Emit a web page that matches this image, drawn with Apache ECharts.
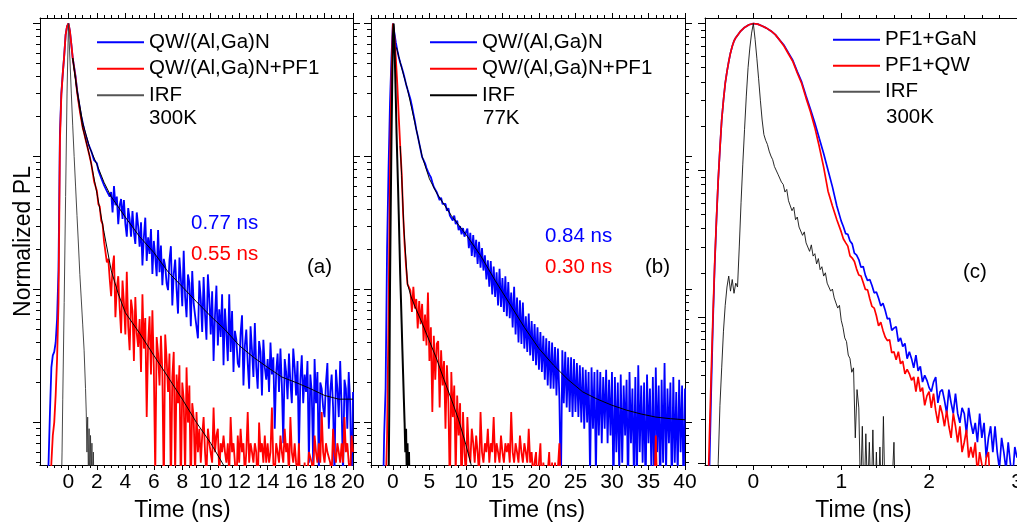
<!DOCTYPE html>
<html><head><meta charset="utf-8">
<script src="https://cdn.jsdelivr.net/npm/echarts@6/dist/echarts.min.js"></script>
<style>html,body{margin:0;padding:0;background:#fff}#c{width:1017px;height:525px}</style>
</head><body><div id="c"></div>
<script>
// ---------------- data: panel (a) 300K ----------------
const tA = [-2,-1.8,-1.6,-1.5,-1.4,-1.3,-1.2,-1.1,-1,-0.9,-0.8,-0.7,-0.65,-0.6,-0.5,-0.4,-0.3,-0.2,-0.1,0,0.1,0.2,0.3,0.4,0.5,0.6,0.7,0.8,0.9,1,1.1,
1.2,1.4,1.6,1.8,
2,2.1,2.2,2.3,2.4,2.5,2.6,2.7,2.8,2.9,
3,3.1,3.2,3.3,3.4,3.5,3.6,3.7,3.8,3.9,
4,4.1,4.2,4.3,4.4,4.5,4.6,4.7,4.8,4.9,
5,5.1,5.2,5.3,5.4,5.5,5.6,5.7,5.8,5.9,
6,6.1,6.2,6.3,6.4,6.5,6.6,6.7,6.8,6.9,
7,7.1,7.2,7.3,7.4,7.5,7.6,7.7,7.8,7.9,
8,8.1,8.2,8.3,8.4,8.5,8.6,8.7,8.8,8.9,
9,9.1,9.2,9.3,9.4,9.5,9.6,9.7,9.8,9.9,
10,10.1,10.2,10.3,10.4,10.5,10.6,10.7,10.8,10.9,
11,11.1,11.2,11.3,11.4,11.5,11.6,11.7,11.8,11.9,
12,12.1,12.2,12.3,12.4,12.5,12.6,12.7,12.8,12.9,
13,13.1,13.2,13.3,13.4,13.5,13.6,13.7,13.8,13.9,
14,14.1,14.2,14.3,14.4,14.5,14.6,14.7,14.8,14.9,
15,15.1,15.2,15.3,15.4,15.5,15.6,15.7,15.8,15.9,
16,16.1,16.2,16.3,16.4,16.5,16.6,16.7,16.8,16.9,
17,17.1,17.2,17.3,17.4,17.5,17.6,17.7,17.8,17.9,
18,18.1,18.2,18.3,18.4,18.5,18.6,18.7,18.8,18.9,
19,19.1,19.2,19.3,19.4,19.5,19.6,19.7,19.8,19.9,
20];
const blueA = [1e-4,1e-4,1e-4,2e-4,5e-4,1.2e-3,2.6e-3,3.2e-3,3.4e-3,4e-3,6e-3,0.014,0.045,0.15,0.3,0.42,0.57,0.82,0.95,1,0.88,0.7,0.55,0.47,0.4,0.32,0.27,0.23,0.2,0.18,0.16,
.146,.124,.11,.094,
.089,.079,.078,.069,.068,.061,.062,.055,.056,.05,
.054,.038,.06,.043,.05,.031,.043,.048,.034,.047,
.031,.025,.041,.034,.025,.039,.027,.022,.038,.03,
.021,.032,.0152,.0248,.0347,.0164,.0247,.0185,.0285,.0131,
.0232,.0176,.0126,.028,.0135,.0214,.0108,.017,.015,.0111,
.0099,.0167,.0212,.0076,.0131,.0168,.01,.0066,.0174,.012,
.0075,.0196,.0088,.0062,.013,.0112,.0053,.0138,.0079,.0064,
.0066,.0043,.0117,.0085,.0048,.0124,.0065,.0042,.013,.0086,
.0046,.0097,.0029,.0064,.0107,.0038,.0071,.0044,.0092,.0027,
.0072,.0047,.0029,.0092,.0034,.0069,.0024,.0049,.0042,.0028,
.0026,.0047,.0064,.0019,.0038,.005,.0028,.0018,.0053,.0035,
.0022,.0056,.0026,.0018,.0041,.0034,.0016,.0042,.0026,.0021,
.003,.0017,.004,.0023,.0031,.0009,.0024,.0033,.0017,.0036,
.0019,.0007,.003,.0024,.0015,.0033,.002,.0014,.0036,.0026,
.0016,.0029,.0006,.0021,.0032,.0014,.0023,.0017,.0029,.0005,
.0023,.0017,.0005,.003,.0014,.0024,.0004,.002,.0018,.0013,
.0011,.002,.0028,.0009,.0017,.0023,.0013,.0004,.0025,.0018,
.0011,.0029,.0013,.0004,.0021,.0018,.0009,.0024,.0014,.0003,
.0017];
const redA = [1e-4,1e-4,1e-4,1e-4,1e-4,2e-4,5e-4,8e-4,1e-3,1.6e-3,3e-3,8e-3,0.03,0.13,0.29,0.42,0.57,0.82,0.95,1,0.88,0.7,0.55,0.46,0.39,0.31,0.26,0.22,0.19,0.165,0.15,
.135,.11,.089,.065,
.055,.044,.042,.033,.031,.023,.023,.016,.017,.012,
.0089,.0147,.018,.0062,.0103,.0126,.0073,.0047,.0117,.0079,
.0046,.0136,.0053,.0035,.0084,.0069,.0029,.0088,.0047,.0037,
.006,.0024,.0092,.0036,.0061,.0011,.004,.0063,.0023,.007,
.0026,.0004,.0044,.0033,.0019,.0045,.0024,.0003,.0046,.003,
.0017,.0033,.0003,.0022,.0034,.0004,.0023,.0014,.0027,.0003,
.002,.0015,.0004,.0026,.001,.0019,.0003,.0014,.0011,.0004,
.0012,.0006,.0009,.0005,.0008,.0011,.0006,.0004,.0009,.0007,
.0007,.0005,.0013,.0006,.0008,.0009,.0004,.0007,.0006,.0008,
.0006,.0005,.0007,.0004,.0011,.0006,.0007,.0005,.0003,.0008,
.0005,.0009,.0006,.0007,.0004,.0006,.0012,.0005,.0007,.0006,
.0005,.0007,.0006,.0003,.001,.0006,.0007,.0005,.0008,.0005,
.0007,.0005,.0006,.0013,.0005,.0004,.0007,.0006,.0005,.0008,
.0006,.0005,.0009,.0006,.0007,.0004,.0011,.0006,.0005,.0007,
.0005,.0004,.0007,.0003,.0003,.0003,.0005,.0003,.0004,.0006,
.0006,.0005,.0004,.0008,.0006,.0005,.0007,.0005,.0012,.0006,
.0005,.0007,.0006,.0006,.0005,.0004,.0009,.0006,.0005,.0007,
.0006,.0005,.0007,.0005,.0011,.0006,.0007,.0005,.0004,.0008,
.0006];
const tIrfA = [-0.6,-0.5,-0.45,-0.4,-0.3,-0.2,-0.1,0,0.1,0.2,0.3,0.4,0.5,0.6,0.7,0.8,0.9,1,1.1,1.2,1.25,1.3,1.35,1.4,1.45,1.5,1.55,1.6,1.65,1.7,1.75,1.8,1.9];
const irfA = [1e-4,3e-4,6e-4,1.5e-3,8e-3,0.05,0.3,1,0.55,0.3,0.17,0.1,0.06,0.036,0.022,0.013,0.0085,0.0055,0.0035,0.0018,0.0012,0.0006,0.0011,0.0004,0.0009,0.0003,0.0008,0.0004,0.0007,0.0003,0.0006,0.0003,0.0001];
const tFitBlueA = [0.3,0.6,1,1.5,2,2.5,3,4,5,6,7,8,9,10,11,12,13,14,15,16,17,18,19,20];
const fitBlueA = [0.55,0.32,0.18,0.116,0.087,0.064,0.05,0.035,0.025,0.019,0.0136,0.0105,0.0081,0.0063,0.005,0.0038,0.0031,0.0026,0.0022,0.002,0.0018,0.0016,0.0015,0.0015];
const tFitRedA = [0.3,0.6,1,1.5,2,2.5,3,3.5,4,5,6,7,8,9,10,11];
const fitRedA = [0.55,0.31,0.165,0.1,0.053,0.027,0.014,0.0093,0.0067,0.0047,0.0032,0.0022,0.0015,0.001,0.0007,0.00046];

// ---------------- data: panel (b) 77K ----------------
const tB = [-3,-2.5,-2,-1.6,-1.4,-1.2,-1,-0.8,-0.6,-0.4,-0.2,0,0.2,0.4,0.6,0.8,1,1.2,1.4,1.6,1.8,2,
2.4,2.6,2.8,3,3.2,3.4,3.6,3.8,4,4.2,4.4,4.6,4.8,5,5.2,5.4,5.6,5.8,6,
6.2,6.4,6.6,6.8,7, 7.2,7.4,7.6,7.8,8, 8.2,8.4,8.6,8.8,9, 9.2,9.4,9.6,9.8,10,
10.2,10.4,10.6,10.8,11, 11.2,11.4,11.6,11.8,12, 12.2,12.4,12.6,12.8,13, 13.2,13.4,13.6,13.8,14,
14.2,14.4,14.6,14.8,15, 15.2,15.4,15.6,15.8,16, 16.2,16.4,16.6,16.8,17, 17.2,17.4,17.6,17.8,18,
18.2,18.4,18.6,18.8,19, 19.2,19.4,19.6,19.8,20, 20.2,20.4,20.6,20.8,21, 21.2,21.4,21.6,21.8,22,
22.2,22.4,22.6,22.8,23, 23.2,23.4,23.6,23.8,24, 24.2,24.4,24.6,24.8,25, 25.2,25.4,25.6,25.8,26,
26.2,26.4,26.6,26.8,27, 27.2,27.4,27.6,27.8,28, 28.2,28.4,28.6,28.8,29, 29.2,29.4,29.6,29.8,30,
30.2,30.4,30.6,30.8,31, 31.2,31.4,31.6,31.8,32, 32.2,32.4,32.6,32.8,33, 33.2,33.4,33.6,33.8,34,
34.2,34.4,34.6,34.8,35, 35.2,35.4,35.6,35.8,36, 36.2,36.4,36.6,36.8,37, 37.2,37.4,37.6,37.8,38,
38.2,38.4,38.6,38.8,39, 39.2,39.4,39.6,39.8,40];
const blueB = [1e-4,1e-4,1e-4,1e-4,2e-4,8e-4,1.8e-3,0.02,0.08,0.25,0.55,1,0.85,0.72,0.63,0.56,0.51,0.47,0.43,0.39,0.35,0.32,
.27,.24,.21,.185,.16,.143,.126,.112,.099,.094,.089,.082,.077,.073,.07,.064,.059,.057,.054,
.053,.047,.049,.044,.045, .044,.039,.041,.036,.037, .033,.036,.031,.033,.028, .03,.026,.029,.025,.027,
.0287,.0205,.0267,.0179,.0257, .0175,.0237,.0156,.0229,.0146, .0205,.0139,.0181,.0119,.0166, .0105,.0164,.0092,.0149,.0088,
.0135,.0076,.0143,.0074,.0122, .0068,.0126,.0063,.0114,.0061, .0095,.0052,.0105,.0046,.0087, .004,.0083,.0039,.008,.0036,
.0063,.0034,.0066,.0032,.0058, .0029,.0055,.0027,.0052,.0025, .0048,.0024,.0045,.0021,.0043, .0019,.0041,.0018,.004,.0018,
.0037,.0016,.0036,.0015,.0003, .0035,.0014,.0034,.0013,.0031, .0012,.0031,.0011,.003,.0012, .0028,.0011,.0027,.001,.0026,
.0009,.0025,.001,.0024,.0004, .0026,.0009,.0024,.0004,.0025, .0008,.0024,.0007,.0022,.0009, .0025,.0007,.0021,.0008,.0024,
.0003,.0022,.0006,.002,.0004, .0023,.0005,.0019,.0008,.0021, .0003,.0024,.0007,.0018,.0004, .0022,.0003,.0027,.0006,.0019,
.0005,.002,.0003,.0023,.0007, .0018,.0004,.0022,.0003,.0026, .0006,.0019,.0003,.0021,.0005, .0028,.0004,.0018,.0007,.002,
.0003,.0022,.0005,.0017,.0004, .0021,.0006,.0019,.0003,.0018];
const redB = [1e-4,1e-4,1e-4,1e-4,1e-4,1e-4,3e-4,8e-4,6e-3,0.08,0.4,1,0.8,0.55,0.35,0.2,0.12,0.075,0.037,0.022,0.015,0.011,
.0098,.0068,.0105,.0072,.0085,.0051,.0082,.0055,.0078,.0041,.0065,.0038,.0095,.0029,.0052,.0012,.0045,.0021,.0039,
.0041,.0013,.0035,.0019,.0029, .0009,.0027,.0014,.0003,.0024, .0011,.0019,.0004,.0016,.0008, .0014,.0003,.0012,.0006,.0004,
.0011,.0006,.0005,.0009,.0007, .0005,.0008,.0006,.0004,.0012, .0006,.0005,.0007,.0006,.0009, .0005,.0007,.0006,.0011,.0005,
.0007,.0006,.0005,.0008,.0006, .0005,.0007,.0006,.0007,.0005, .0012,.0006,.0005,.0007,.0006, .0005,.0008,.0006,.0005,.0007,
.0006,.0005,.0009,.0005,.0006, .0004,.0005,.0006,.0003,.0005, .0007,.0003,.0005,.0005,.0003, .0003,.0006,.0003,.0005,.0003,
.0005,.0003,.0003,.0007,.0003, .0003,.0003,.0003,.0003,.0003, .0003,.0003,.0003,.0003,.0003, .0003,.0003,.0003,.0003,.0003,
.0003,.0003,.0003,.0003,.0003, .0003,.0003,.0003,.0003,.0003, .0003,.0003,.0003,.0003,.0003, .0003,.0003,.0003,.0003,.0003,
.0003,.0003,.0003,.0003,.0003, .0003,.0003,.0003,.0003,.0003, .0003,.0003,.0003,.0003,.0003, .0003,.0003,.0003,.0003,.0003,
.0003,.0003,.0003,.0003,.0003, .0003,.0003,.0003,.0003,.0008, .0003,.0003,.0003,.0003,.0003, .0003,.0003,.0003,.0003,.0003,
.0003,.0003,.0003,.0003,.0003, .0003,.0003,.0003,.0003,.0003];
const tIrfB = [-0.8,-0.6,-0.5,-0.4,-0.3,-0.2,-0.1,0,0.1,0.2,0.3,0.4,0.5,0.6,0.7,0.8,0.9,1,1.1,1.2,1.3,1.4,1.5,1.6,1.7,1.8,1.9,2,2.1,2.2,2.3,2.4];
const irfB = [1e-4,3e-4,1.2e-3,0.01,0.04,0.13,0.35,0.8,1,0.75,0.45,0.27,0.15,0.095,0.06,0.037,0.022,0.013,0.0085,0.0055,0.0035,0.0023,0.0015,0.001,0.0006,0.0009,0.0004,0.0007,0.0003,0.0006,0.0003,0.0001];
const tFitBlueB = [0.5,1,2,3,4,5,6,8,10,12,14,16,18,20,22,24,26,28,30,32,34,36,38,40];
const fitBlueB = [0.66,0.51,0.32,0.18,0.1,0.068,0.053,0.036,0.026,0.018,0.0117,0.0078,0.0052,0.0036,0.0027,0.0021,0.0017,0.0015,0.00135,0.00124,0.00116,0.0011,0.00107,0.00105];
const tFitRedB = [1,1.2,1.5,2,2.5,3,4,5,6,7,8,9,10,11];
const fitRedB = [0.12,0.072,0.029,0.011,0.0088,0.0075,0.0056,0.0041,0.003,0.0021,0.0015,0.00105,0.00068,0.00042];

// ---------------- data: panel (c) 300K ----------------
const tC = [-0.55,-0.52,-0.5,-0.48,-0.46,-0.44,-0.42,-0.4,-0.38,-0.36,-0.34,-0.32,-0.3,-0.28,-0.26,-0.24,-0.22,-0.2,-0.15,-0.1,-0.05,0,0.05,0.1,0.15,0.2,0.25,0.3,0.35,0.4,0.45,0.5,0.55,0.6,0.65,0.7,0.75,0.8,0.85,0.9,0.95,1,
1.025,1.05,1.075,1.1,1.125,1.15,1.175,1.2,
1.225,1.25,1.275,1.3,1.325,1.35,1.375,1.4,
1.425,1.45,1.475,1.5,1.525,1.55,1.575,1.6,
1.625,1.65,1.675,1.7,1.725,1.75,1.775,1.8,
1.825,1.85,1.875,1.9,1.925,1.95,1.975,2,
2.025,2.05,2.075,2.1,2.125,2.15,2.175,2.2,
2.225,2.25,2.275,2.3,2.325,2.35,2.375,2.4,
2.425,2.45,2.475,2.5,2.525,2.55,2.575,2.6,
2.625,2.65,2.675,2.7,2.725,2.75,2.775,2.8,
2.825,2.85,2.875,2.9,2.925,2.95,2.975,3];
const blueC = [1e-4,3e-4,9e-4,3e-3,9e-3,0.022,0.045,0.085,0.14,0.22,0.3,0.39,0.47,0.55,0.63,0.7,0.76,0.8,0.88,0.94,0.98,1,0.99,0.96,0.93,0.89,0.84,0.77,0.71,0.63,0.56,0.47,0.4,0.32,0.26,0.21,0.165,0.13,0.1,0.077,0.057,0.045,
.0412,.037,.0366,.0329,.0315,.0272,.0264,.0246,
.0218,.0221,.0192,.0177,.018,.0164,.0146,.0148,
.0134,.0119,.0124,.0111,.0097,.0098,.0081,.0084,
.0086,.0068,.0072,.0063,.0066,.0052,.0058,.0052,
.0045,.0055,.0043,.0046,.0036,.004,.0037,.0033,
.0031,.0036,.0039,.0026,.0031,.0032,.0027,.0022,
.0032,.0026,.0022,.003,.0022,.0019,.0024,.0022,
.0016,.0024,.0019,.0016,.0019,.0014,.0022,.0015,
.0019,.0011,.0015,.0018,.0012,.0018,.0012,.00092,
.0015,.0012,.00091,.0014,.001,.00079,.0013,.0011];
const redC = [1e-4,5e-4,1.5e-3,4e-3,0.01,0.023,0.046,0.085,0.14,0.22,0.3,0.39,0.47,0.55,0.63,0.7,0.76,0.8,0.88,0.94,0.98,1,0.99,0.96,0.93,0.89,0.84,0.77,0.7,0.62,0.55,0.46,0.39,0.31,0.25,0.195,0.145,0.105,0.072,0.057,0.046,0.038,
.034,.0321,.0304,.0261,.0252,.0239,.0212,.0193,
.019,.0172,.0154,.0153,.0133,.0118,.0115,.0102,
.0087,.0092,.0081,.0073,.0069,.007,.0057,.0058,
.0051,.0058,.0048,.005,.0041,.0044,.0041,.0037,
.0039,.0031,.0039,.0031,.0033,.0025,.0029,.0031,
.0024,.003,.0023,.0019,.0025,.0022,.0018,.0023,
.0018,.0015,.0022,.0018,.0014,.0018,.0012,.0014,
.0017,.0011,.0013,.0011,.0014,.00085,.0012,.00099,
.00079,.0011,.0012,.00064,.00086,.00096,.00069,.00054,
.00093,.00072,.00056,.00089,.00056,.00046,.00067,.0006];
const tIrfC = [-0.42,-0.4,-0.38,-0.36,-0.34,-0.32,-0.3,-0.28,-0.26,-0.24,-0.22,-0.2,-0.18,-0.16,-0.14,
-0.12,-0.1,-0.08,-0.06,-0.04,-0.02,0,0.02,0.04,0.06,0.08,0.1,0.12,0.14,0.16,
0.18,0.2,0.22,0.24,0.26,0.28,0.3,0.32,0.34,0.36,0.38,0.4,0.42,0.44,0.46,
0.48,0.5,0.52,0.54,0.56,0.58,0.6,0.62,0.64,0.66,0.68,0.7,0.72,0.74,0.76,
0.78,0.8,0.82,0.84,0.86,0.88,0.9,0.92,0.94,0.96,0.98,1,1.02,1.04,1.06,
1.08,1.1,1.12,1.14,1.16,1.18,1.2,1.22,1.24,1.26,1.28,1.3,1.32,1.34,1.36,
1.38,1.4,1.42,1.44,1.46,1.48,1.5,1.52,1.56,1.6,1.62];
const irfC = [5e-4,1e-3,2.5e-3,4.5e-3,8e-3,.012,.016,.019,.015,.018,.0145,.017,.016,.03,.06,
.11,.19,.32,.5,.68,.86,1,.78,.58,.42,.3,.22,.175,.16,.15,
.135,.125,.118,.106,.108,.094,.096,.083,.08,.071,.074,.062,.063,.053,.056,
.046,.048,.041,.042,.036,.038,.032,.033,.028,.031,.026,.027,.023,.025,.021,
.022,.019,.02,.017,.0175,.015,.0155,.0135,.0138,.0115,.012,.0095,.0085,.0072,.0068,
.0055,.0052,.0042,.0045,.0015,.0032,.0024,.0006,.0018,.0005,.0016,.0006,.0014,.0005,.0017,
.0005,.0012,.0005,.0013,.0005,.0021,.0005,.0004,.0004,.0014,.0004];

// ---------------- axes: tick labels ----------------
const xLabelsA = [0,2,4,6,8,10,12,14,16,18,20];
const xLabelsB = [0,5,10,15,20,25,30,35,40];
const xLabelsC = [0,1,2,3];
const yMajor = [0.001,0.01,0.1,1];

// ---------------- build ----------------
const checks = [[tA,blueA,'blueA'],[tA,redA,'redA'],[tIrfA,irfA,'irfA'],[tFitBlueA,fitBlueA,'fbA'],[tFitRedA,fitRedA,'frA'],
 [tB,blueB,'blueB'],[tB,redB,'redB'],[tIrfB,irfB,'irfB'],[tFitBlueB,fitBlueB,'fbB'],[tFitRedB,fitRedB,'frB'],
 [tC,blueC,'blueC'],[tC,redC,'redC'],[tIrfC,irfC,'irfC']];
const bad = checks.filter(c => c[0].length !== c[1].length).map(c => c[2] + ':' + c[0].length + '/' + c[1].length);
if (bad.length) throw new Error('length mismatch ' + bad.join(' '));

const FF = '"Liberation Sans", Arial, Helvetica, sans-serif';
const BLUE = '#0000ff', RED = '#ff0000';
function pts(t, v) { return t.map((x, i) => [x, v[i]]); }
function minorList(min, max, step, major) {
  const out = [];
  for (let k = Math.ceil(min / step - 1e-9); k * step <= max + 1e-9; k++) {
    const v = Math.round(k * step * 1000) / 1000;
    const r = v / major;
    if (Math.abs(r - Math.round(r)) > 1e-6) out.push(v);
  }
  return out;
}
function logMinor(min, max) {
  const out = [];
  for (let e = -4; e <= 0; e++) for (let k = 2; k <= 9; k++) {
    const v = k * Math.pow(10, e);
    if (v >= min * 0.999 && v <= max) out.push(Math.log10(v));
  }
  return out;
}
const panels = [
  {left: 40, width: 313, xMin: -2, xMax: 20, xMajor: xLabelsA, xMinor: minorList(-2, 20, 0.5, 2), yMin: 4.8e-4, yMax: 1.1, pad: [0, 28, 0, 0]},
  {left: 371, width: 314, xMin: -3, xMax: 40, xMajor: xLabelsB, xMinor: minorList(-3, 40, 1, 5), yMin: 4.8e-4, yMax: 1.1, pad: [0, 0, 0, 18]},
  {left: 705, width: 312, xMin: -0.55, xMax: 3, xMajor: xLabelsC, xMinor: minorList(-0.55, 3, 0.2, 1), yMin: 9.8e-4, yMax: 1.09, pad: [0, 0, 0, 5]}
];
const AX = {color: '#000', width: 1};
const grid = [], xAxis = [], yAxis = [];
panels.forEach((p, i) => {
  grid.push({left: p.left, top: 18, width: p.width, height: 447, containLabel: false, outerBoundsMode: 'none'});
  const base = {gridIndex: i, type: 'value', min: p.xMin, max: p.xMax, splitLine: {show: false}};
  xAxis.push(Object.assign({}, base, {position: 'bottom',
    axisLine: {show: true, onZero: false, lineStyle: AX},
    axisTick: {show: true, inside: false, length: 5, customValues: p.xMajor, lineStyle: AX},
    axisLabel: {show: true, customValues: p.xMajor, margin: 7, color: '#000', fontSize: 21, fontFamily: FF, hideOverlap: false},
    name: 'Time (ns)', nameLocation: 'middle', nameGap: 34,
    nameTextStyle: {fontSize: 23, color: '#000', fontFamily: FF, padding: p.pad}}));
  xAxis.push(Object.assign({}, base, {position: 'bottom', axisLine: {show: false, onZero: false},
    axisTick: {show: true, inside: false, length: 3, customValues: p.xMinor, lineStyle: AX}, axisLabel: {show: false}}));
  xAxis.push(Object.assign({}, base, {position: 'top', axisLine: {show: true, onZero: false, lineStyle: AX},
    axisTick: {show: true, inside: false, length: 5, customValues: p.xMajor, lineStyle: AX}, axisLabel: {show: false}}));
  xAxis.push(Object.assign({}, base, {position: 'top', axisLine: {show: false, onZero: false},
    axisTick: {show: true, inside: false, length: 3, customValues: p.xMinor, lineStyle: AX}, axisLabel: {show: false}}));

  const yData = {gridIndex: i, type: 'log', logBase: 10, min: p.yMin, max: p.yMax, position: 'left',
    axisLine: {show: true, onZero: false, lineStyle: AX}, axisTick: {show: false}, axisLabel: {show: false},
    splitLine: {show: false}, minorTick: {show: false}, minorSplitLine: {show: false}};
  if (i === 0) Object.assign(yData, {name: 'Normalized PL', nameLocation: 'middle', nameGap: 5,
    nameTextStyle: {fontSize: 23, color: '#000', fontFamily: FF}});
  yAxis.push(yData);
  const lb = {gridIndex: i, type: 'value', min: Math.log10(p.yMin), max: Math.log10(p.yMax), splitLine: {show: false}, axisLabel: {show: false}};
  const maj = yMajor.map(Math.log10), mnr = logMinor(p.yMin, p.yMax);
  yAxis.push(Object.assign({}, lb, {position: 'left', axisLine: {show: false, onZero: false},
    axisTick: {show: true, inside: false, length: 7, customValues: maj, lineStyle: AX}}));
  yAxis.push(Object.assign({}, lb, {position: 'left', axisLine: {show: false, onZero: false},
    axisTick: {show: true, inside: false, length: 4, customValues: mnr, lineStyle: AX}}));
  yAxis.push(Object.assign({}, lb, {position: 'right', axisLine: {show: true, onZero: false, lineStyle: AX},
    axisTick: {show: true, inside: false, length: 7, customValues: maj, lineStyle: AX}}));
  yAxis.push(Object.assign({}, lb, {position: 'right', axisLine: {show: false, onZero: false},
    axisTick: {show: true, inside: false, length: 4, customValues: mnr, lineStyle: AX}}));
});

function line(name, g, data, color, width, z) {
  return {name: name, type: 'line', xAxisIndex: 4 * g, yAxisIndex: 5 * g, data: data,
    symbol: 'none', showSymbol: false, clip: true, z: z, silent: true,
    lineStyle: {color: color, width: width}, itemStyle: {color: color}, emphasis: {disabled: true}};
}
const series = [
  line('QW/(Al,Ga)N', 0, pts(tA, blueA), BLUE, 1.8, 2),
  line('QW/(Al,Ga)N+PF1', 0, pts(tA, redA), RED, 1.8, 3),
  line('IRF', 0, pts(tIrfA, irfA), '#333', 0.9, 4),
  line('fit', 0, pts(tFitBlueA, fitBlueA), '#000', 1, 5),
  line('fit', 0, pts(tFitRedA, fitRedA), '#000', 1, 5),
  line('QW/(Al,Ga)N', 1, pts(tB, blueB), BLUE, 1.8, 2),
  line('QW/(Al,Ga)N+PF1', 1, pts(tB, redB), RED, 1.8, 3),
  line('IRF 77K', 1, pts(tIrfB, irfB), '#000', 2, 4),
  line('fit', 1, pts(tFitBlueB, fitBlueB), '#000', 1, 5),
  line('fit', 1, pts(tFitRedB, fitRedB), '#000', 1, 5),
  line('PF1+GaN', 2, pts(tC, blueC), BLUE, 1.7, 2),
  line('PF1+QW', 2, pts(tC, redC), RED, 1.7, 3),
  line('IRF', 2, pts(tIrfC, irfC), '#111', 0.9, 4)
];

function legend(left, top, gap, items) {
  return {left: left, top: top, orient: 'vertical', padding: 0, itemWidth: 47, itemHeight: 2, itemGap: gap,
    icon: 'rect', selectedMode: false,
    textStyle: {fontSize: 20.5, lineHeight: 20, color: '#000', fontFamily: FF}, data: items};
}
const legends = [
  legend(97, 31.7, 5.5, [{name: 'QW/(Al,Ga)N'}, {name: 'QW/(Al,Ga)N+PF1'}, {name: 'IRF', itemStyle: {color: '#555'}}]),
  legend(430, 31.7, 5.5, [{name: 'QW/(Al,Ga)N'}, {name: 'QW/(Al,Ga)N+PF1'}, {name: 'IRF 77K', itemStyle: {color: '#000'}}]),
  legend(833, 29.3, 5, [{name: 'PF1+GaN'}, {name: 'PF1+QW'}, {name: 'IRF', itemStyle: {color: '#555'}}])
];
legends[1].formatter = n => n === 'IRF 77K' ? 'IRF' : n;

function txt(s, x, y, color) {
  return {type: 'text', x: x, y: y, silent: true,
    style: {text: s, fill: color || '#000', fontSize: 20.5, fontFamily: FF, verticalAlign: 'middle', align: 'left'}};
}
const graphic = [
  txt('300K', 149, 118), txt('0.77 ns', 191, 223, BLUE), txt('0.55 ns', 191, 254, RED), txt('(a)', 307, 267),
  txt('77K', 483, 118), txt('0.84 ns', 545, 236, BLUE), txt('0.30 ns', 545, 267, RED), txt('(b)', 645, 267),
  txt('300K', 886, 117), txt('(c)', 963, 272)
];

const chart = echarts.init(document.getElementById('c'), null, {renderer: 'canvas'});
chart.setOption({
  animation: false, backgroundColor: '#fff',
  textStyle: {fontFamily: FF},
  grid: grid, xAxis: xAxis, yAxis: yAxis, series: series, legend: legends, graphic: graphic
});
</script></body></html>
